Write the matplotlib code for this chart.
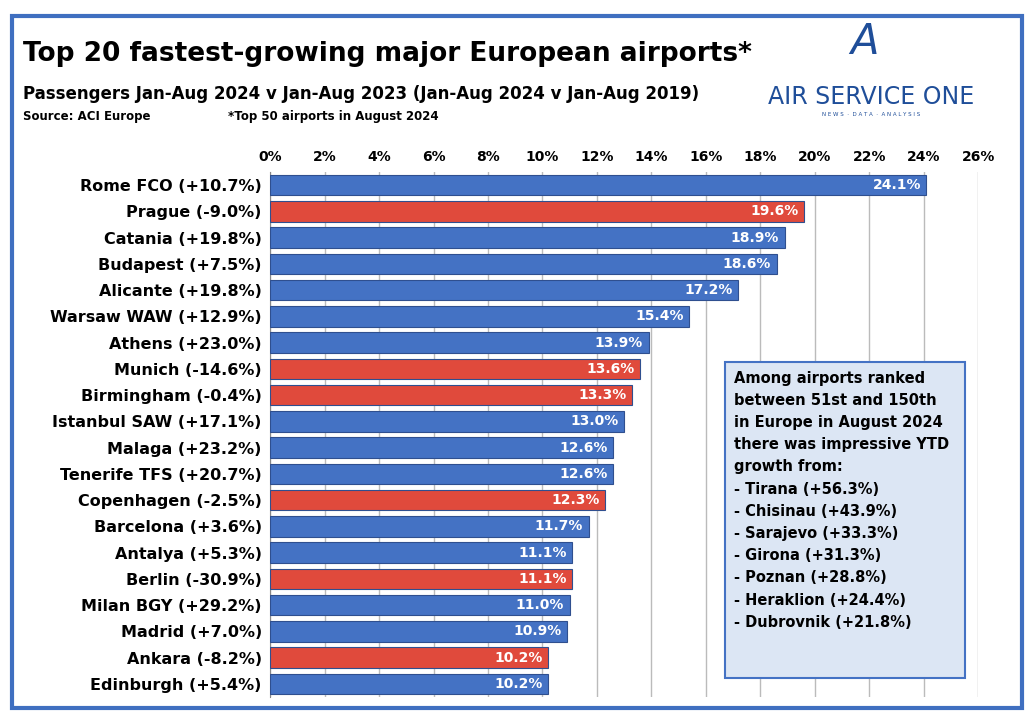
import matplotlib
matplotlib.use("Agg")
import matplotlib.pyplot as plt
from matplotlib.patches import Rectangle

airports = ["Rome FCO (+10.7%)","Prague (-9.0%)","Catania (+19.8%)","Budapest (+7.5%)",
            "Alicante (+19.8%)","Warsaw WAW (+12.9%)","Athens (+23.0%)","Munich (-14.6%)",
            "Birmingham (-0.4%)","Istanbul SAW (+17.1%)","Malaga (+23.2%)","Tenerife TFS (+20.7%)",
            "Copenhagen (-2.5%)","Barcelona (+3.6%)","Antalya (+5.3%)","Berlin (-30.9%)",
            "Milan BGY (+29.2%)","Madrid (+7.0%)","Ankara (-8.2%)","Edinburgh (+5.4%)"]
growth = [24.1,19.6,18.9,18.6,17.2,15.4,13.9,13.6,13.3,13.0,12.6,12.6,12.3,11.7,11.1,11.1,11.0,10.9,10.2,10.2]
below2019 = [False,True,False,False,False,False,False,True,True,False,False,False,True,False,False,True,False,False,True,False]
xticks = list(range(0,27,2))

BLUE="#4472C4"; RED="#E04A3C"
fig = plt.figure(figsize=(10.35,7.17), dpi=100)
fig.patches.append(Rectangle((0.012,0.012),0.975,0.965,transform=fig.transFigure,fill=False,
                             edgecolor="#3F6FC0",lw=3))
ax = fig.add_axes([0.261,0.028,0.684,0.732])
y = list(range(len(airports)))
cols = [RED if b else BLUE for b in below2019]
ax.barh(y, growth, height=0.78, color=cols, edgecolor="#2F4F8F", lw=0.8, zorder=3)
for yi,v in zip(y,growth):
    ax.text(v-0.2, yi, f"{v:.1f}%", ha="right", va="center", color="white", fontsize=10, fontweight="bold", zorder=4)
ax.set_xlim(0,26); ax.set_ylim(len(airports)-0.5,-0.5)
ax.set_xticks(xticks); ax.set_xticklabels([f"{t}%" for t in xticks], fontsize=10, fontweight="bold")
ax.xaxis.tick_top()
ax.set_yticks(y); ax.set_yticklabels(airports, fontsize=11.5, fontweight="bold")
ax.tick_params(length=0, pad=6)
ax.grid(axis="x", color="#BBBBBB", lw=1, zorder=0)
for s in ax.spines.values(): s.set_visible(False)
ax.spines["left"].set_visible(True); ax.spines["left"].set_color("#888888")

fig.text(0.022,0.915,"Top 20 fastest-growing major European airports*",fontsize=19,fontweight="bold")
fig.text(0.022,0.862,"Passengers Jan-Aug 2024 v Jan-Aug 2023 (Jan-Aug 2024 v Jan-Aug 2019)",fontsize=12,fontweight="bold")
fig.text(0.022,0.833,"Source: ACI Europe",fontsize=8.5,fontweight="bold")
fig.text(0.22,0.833,"*Top 50 airports in August 2024",fontsize=8.5,fontweight="bold")
fig.text(0.835,0.925,"A",fontsize=30,style="italic",color="#1F4E99",ha="center")
fig.text(0.842,0.855,"AIR SERVICE ONE",fontsize=17,color="#1F4E99",ha="center")
fig.text(0.842,0.838,"N E W S  ·  D A T A  ·  A N A L Y S I S",fontsize=4,color="#1F4E99",ha="center")

box = ("Among airports ranked\nbetween 51st and 150th\nin Europe in August 2024\nthere was impressive YTD\ngrowth from:\n"
       "- Tirana (+56.3%)\n- Chisinau (+43.9%)\n- Sarajevo (+33.3%)\n- Girona (+31.3%)\n- Poznan (+28.8%)\n"
       "- Heraklion (+24.4%)\n- Dubrovnik (+21.8%)")
fig.patches.append(Rectangle((0.700,0.055),0.232,0.44,transform=fig.transFigure,
                             facecolor="#DCE6F4",edgecolor="#4472C4",lw=1.5,zorder=5))
fig.text(0.709,0.483,box,fontsize=10.5,fontweight="bold",va="top",linespacing=1.6,zorder=6)
fig.savefig("out.png", dpi=100)
